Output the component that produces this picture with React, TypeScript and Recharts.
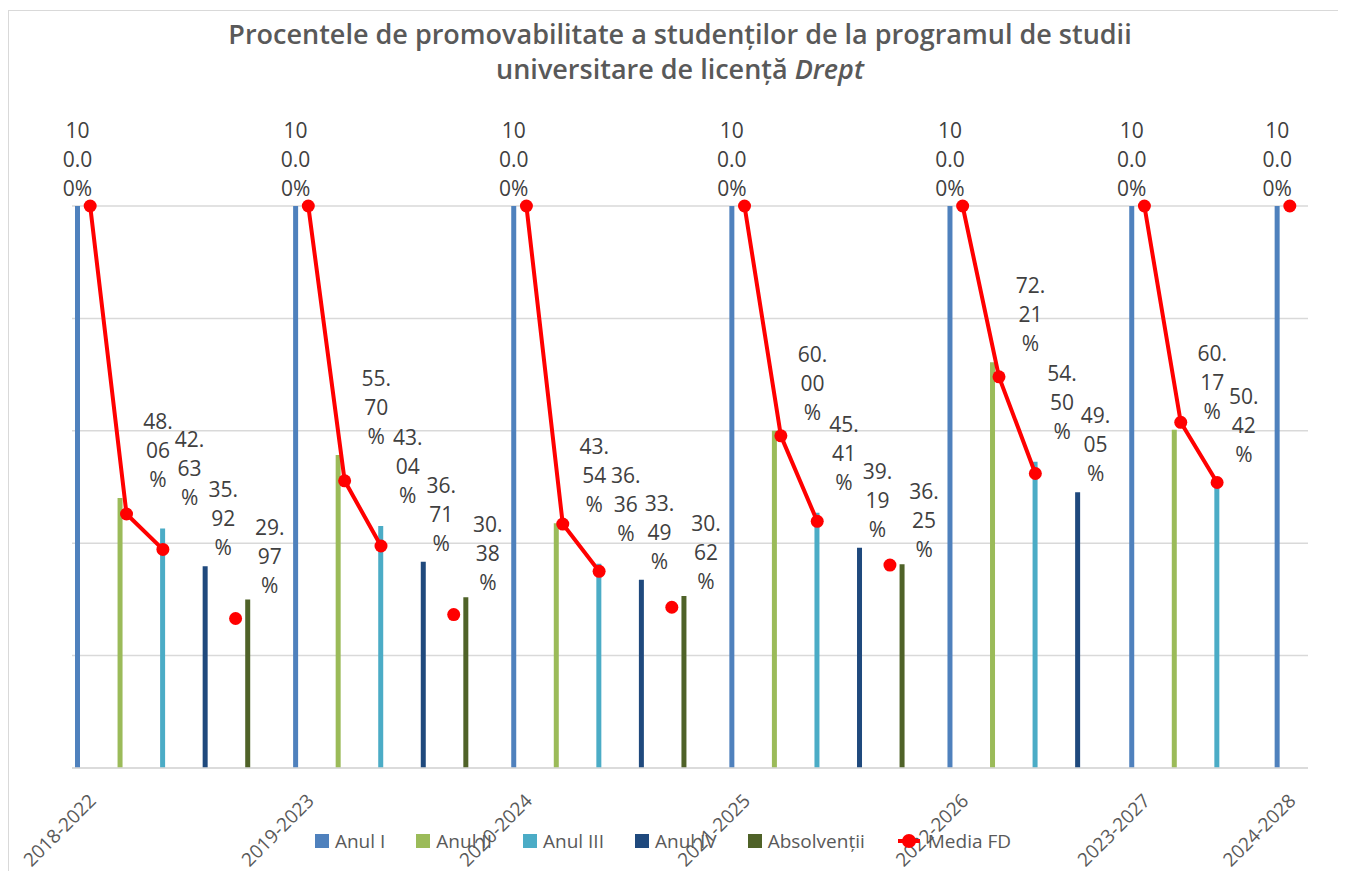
import React from "react";
import {
  ComposedChart,
  Bar,
  Line,
  XAxis,
  YAxis,
  CartesianGrid,
  Legend,
  LabelList,
} from "recharts";

const cohorts = [
  "2018-2022",
  "2019-2023",
  "2020-2024",
  "2021-2025",
  "2022-2026",
  "2023-2027",
  "2024-2028",
];

// promovabilitate per an de studiu, pe fiecare serie de admitere (%)
const anulI = [100, 100, 100, 100, 100, 100, 100];
const anulII = [48.06, 55.7, 43.54, 60.0, 72.21, 60.17, null];
const anulIII = [42.63, 43.04, 36.36, 45.41, 54.5, 50.42, null];
const anulIV = [35.92, 36.71, 33.49, 39.19, 49.05, null, null];
const absolventi = [29.97, 30.38, 30.62, 36.25, null, null, null];

// media facultatii, pe aceleasi pozitii
const mediaI = [100, 100, 100, 100, 100, 100, 100];
const mediaII = [45.2, 51.1, 43.4, 59.1, 69.6, 61.5, null];
const mediaIII = [38.9, 39.5, 35.0, 43.9, 52.4, 50.8, null];
const mediaIV = [null, null, null, null, null, null, null];
const mediaAbs = [26.6, 27.3, 28.6, 36.1, null, null, null];

const yTicks = [0, 20, 40, 60, 80, 100];

const series = [
  { key: "anulI", name: "Anul I", color: "#4F81BD", values: anulI, media: mediaI },
  { key: "anulII", name: "Anul II", color: "#9BBB59", values: anulII, media: mediaII },
  { key: "anulIII", name: "Anul III", color: "#4BACC6", values: anulIII, media: mediaIII },
  { key: "anulIV", name: "Anul IV", color: "#1F497D", values: anulIV, media: mediaIV },
  { key: "abs", name: "Absolvenții", color: "#4F6228", values: absolventi, media: mediaAbs },
];

// one slot per existing bar, plus an empty slot between cohorts
const rows: any[] = [];
cohorts.forEach((cohort, g) => {
  series.forEach((s, k) => {
    const v = s.values[g];
    if (v == null) return;
    rows.push({ key: `${g}-${k}`, label: k === 0 ? cohort : "", [s.key]: v, media: s.media[g] });
  });
  if (g < cohorts.length - 1) rows.push({ key: `${g}-gap`, label: "", media: null });
});

const labelByKey: Record<string, string> = {};
rows.forEach((r) => (labelByKey[r.key] = r.label));

// label nudges per series (Excel moved them off the bars)
const labelDx = [0, 38, 27, 18, 22];
const labelGap = [17, 18, 30, 18, 14];
const lineStep = 29;

const wrapValue = (v: number) => {
  const s = v.toFixed(2) + "%";
  if (v >= 100) return [s.slice(0, 2), s.slice(2, 5), s.slice(5)];
  return [s.slice(0, 3), s.slice(3, 5), s.slice(5)];
};

const makeLabel = (k: number) => (props: any) => {
  const { x, y, width, value } = props;
  if (value == null) return null;
  const cx = x + width / 2 + labelDx[k];
  const parts = wrapValue(Number(value));
  const bottom = y - labelGap[k];
  return (
    <text x={cx} y={bottom} fontSize={21} fill="#404040" textAnchor="middle" fontFamily='"Open Sans", sans-serif'>
      {parts.map((p, i) => (
        <tspan key={i} x={cx} y={bottom - (parts.length - 1 - i) * lineStep + 7}>
          {p}
        </tspan>
      ))}
    </text>
  );
};

const CohortTick = (props: any) => {
  const { x, y, payload } = props;
  const label = labelByKey[payload.value];
  if (!label) return null;
  const tx = x + 7;
  const ty = y + 34;
  return (
    <text
      x={tx}
      y={ty}
      transform={`rotate(-45, ${tx}, ${ty})`}
      textAnchor="end"
      fontSize={19}
      fill="#595959"
      fontFamily='"Open Sans", sans-serif'
    >
      {label}
    </text>
  );
};

const LegendContent = () => (
  <div
    style={{
      display: "flex",
      justifyContent: "center",
      alignItems: "center",
      gap: 31,
      fontSize: 19,
      color: "#595959",
      transform: "translateX(-27px)",
    }}
  >
    {series.map((s) => (
      <div key={s.key} style={{ display: "flex", alignItems: "center", gap: 6 }}>
        <span style={{ width: 14, height: 14, background: s.color, display: "inline-block" }} />
        <span>{s.name}</span>
      </div>
    ))}
    <div style={{ display: "flex", alignItems: "center", gap: 6 }}>
      <svg width={26} height={16}>
        <line x1={2} y1={8} x2={24} y2={8} stroke="#FF0000" strokeWidth={4} />
        <circle cx={13} cy={8} r={7} fill="#FF0000" />
      </svg>
      <span>Media FD</span>
    </div>
  </div>
);

const App = () => {
  return (
    <div
      style={{
        position: "relative",
        width: 1330,
        height: 860,
        marginTop: 2,
        borderLeft: "1px solid #d9d9d9",
        borderTop: "1px solid #d9d9d9",
        fontFamily: '"Open Sans", sans-serif',
      }}
    >
      <ComposedChart
        width={1330}
        height={860}
        data={rows}
        margin={{ top: 195, right: 31, bottom: 17, left: 63 }}
        barGap={1.2}
        barSize={5}
      >
        <CartesianGrid vertical={false} stroke="#d9d9d9" strokeWidth={1.5} />
        <XAxis
          dataKey="key"
          interval={0}
          tickLine={false}
          tickSize={0}
          tickMargin={0}
          height={60}
          axisLine={{ stroke: "#d9d9d9", strokeWidth: 1.5 }}
          tick={<CohortTick />}
        />
        <YAxis hide domain={[0, 100]} ticks={yTicks} />
        <Legend verticalAlign="bottom" content={<LegendContent />} />
        {series.map((s, k) => (
          <Bar key={s.key} dataKey={s.key} name={s.name} fill={s.color} isAnimationActive={false}>
            <LabelList dataKey={s.key} content={makeLabel(k)} />
          </Bar>
        ))}
        <Line
          dataKey="media"
          name="Media FD"
          stroke="#FF0000"
          strokeWidth={4}
          dot={{ r: 6.5, fill: "#FF0000", stroke: "#FF0000", strokeWidth: 0 }}
          activeDot={false}
          isAnimationActive={false}
          connectNulls={false}
        />
      </ComposedChart>
      <div
        style={{
          position: "absolute",
          top: 5,
          left: 6,
          width: "100%",
          textAlign: "center",
          fontSize: 27,
          fontWeight: 600,
          lineHeight: "35px",
          color: "#595959",
        }}
      >
        Procentele de promovabilitate a studenților de la programul de studii
        <br />
        universitare de licență <i>Drept</i>
      </div>
    </div>
  );
};

export default App;
